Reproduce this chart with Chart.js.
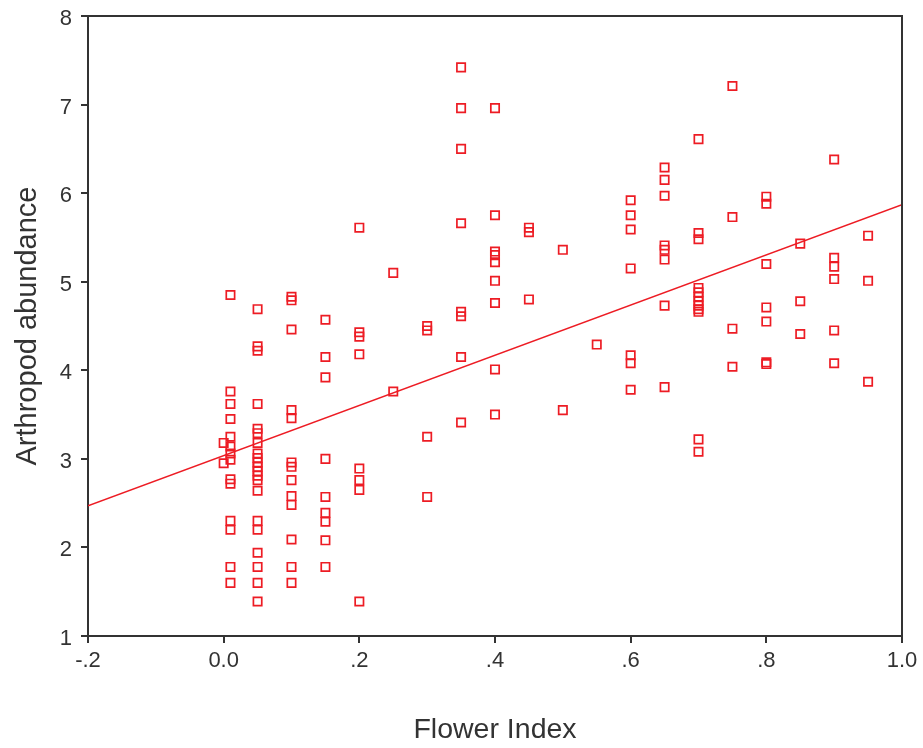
<!DOCTYPE html>
<html>
<head>
<meta charset="utf-8">
<script src="https://cdn.jsdelivr.net/npm/chart.js@4"></script>
<style>
    body { margin: 0; background: #ffffff; }
    #wrap { width: 923px; height: 748px; }
</style>
</head>
<body>
<div id="wrap"><canvas id="chart" width="923" height="748"></canvas></div>
<script>
// flower index groups and the arthropod abundance read for each group
const flowerIndex = [0.0, 0.01, 0.05, 0.1, 0.15, 0.2, 0.25, 0.3, 0.35, 0.4, 0.45, 0.5, 0.55, 0.6, 0.65, 0.7, 0.75, 0.8, 0.85, 0.9, 0.95];
const abundance = [
    [3.18, 2.95],
    [4.85, 3.76, 3.62, 3.45, 3.25, 3.14, 3.06, 2.99, 2.77, 2.72, 2.30, 2.20, 1.78, 1.60],
    [4.69, 4.27, 4.22, 3.62, 3.34, 3.29, 3.18, 3.06, 3.01, 2.96, 2.91, 2.86, 2.81, 2.76, 2.64, 2.30, 2.20, 1.94, 1.78, 1.60, 1.39],
    [4.83, 4.79, 4.46, 3.55, 3.46, 2.96, 2.91, 2.76, 2.58, 2.48, 2.09, 1.78, 1.60],
    [4.57, 4.15, 3.92, 3.00, 2.57, 2.39, 2.29, 2.08, 1.78],
    [5.61, 4.43, 4.38, 4.18, 2.89, 2.76, 2.65, 1.39],
    [5.10, 3.76],
    [4.50, 4.45, 3.25, 2.57],
    [7.42, 6.96, 6.50, 5.66, 4.66, 4.61, 4.15, 3.41],
    [6.96, 5.75, 5.34, 5.30, 5.22, 5.01, 4.76, 4.01, 3.50],
    [5.61, 5.56, 4.80],
    [5.36, 3.55],
    [4.29],
    [5.92, 5.75, 5.59, 5.15, 4.17, 4.08, 3.78],
    [6.29, 6.15, 5.97, 5.41, 5.36, 5.25, 4.73, 3.81],
    [6.61, 5.55, 5.48, 4.93, 4.88, 4.83, 4.78, 4.73, 4.69, 4.66, 3.22, 3.08],
    [7.21, 5.73, 4.47, 4.04],
    [5.96, 5.88, 5.20, 4.71, 4.55, 4.09, 4.07],
    [5.43, 4.78, 4.41],
    [6.38, 5.27, 5.17, 5.03, 4.45, 4.08],
    [5.52, 5.01, 3.87]
];

// fitted line, end points
const fitX = [-0.2, 1.0];
const fitY = [2.47, 5.87];

const xTickValues = [-0.2, 0, 0.2, 0.4, 0.6, 0.8, 1.0];
const xTickLabels = ['-.2', '0.0', '.2', '.4', '.6', '.8', '1.0'];

const red = '#ed1c24';
const axisColor = '#333333';
const fontFamily = "'Liberation Sans', Arial, sans-serif";

const points = [];
flowerIndex.forEach((fi, i) => {
    abundance[i].forEach(v => points.push({ x: fi, y: v }));
});
const fitLine = fitX.map((x, i) => ({ x: x, y: fitY[i] }));

// top and right sides of the box
const framePlugin = {
    id: 'frame',
    afterDraw: (chart) => {
        const { ctx, chartArea } = chart;
        ctx.save();
        ctx.beginPath();
        ctx.moveTo(chartArea.left, chartArea.top);
        ctx.lineTo(chartArea.right, chartArea.top);
        ctx.lineTo(chartArea.right, chartArea.bottom);
        ctx.lineWidth = 2;
        ctx.strokeStyle = axisColor;
        ctx.stroke();
        ctx.restore();
    }
};

new Chart(document.getElementById('chart'), {
    type: 'scatter',
    plugins: [framePlugin],
    data: {
        datasets: [{
            data: points,
            pointStyle: 'rect',
            pointRadius: 5.9,
            pointBorderWidth: 1.7,
            pointBorderColor: red,
            pointBackgroundColor: 'rgba(0,0,0,0)',
            showLine: false
        }, {
            type: 'line',
            data: fitLine,
            borderColor: red,
            borderWidth: 1.6,
            pointRadius: 0,
            fill: false,
            tension: 0
        }]
    },
    options: {
        responsive: false,
        animation: false,
        events: [],
        layout: {
            padding: { left: 0, top: 16, right: 21, bottom: 0 }
        },
        plugins: {
            legend: { display: false },
            tooltip: { enabled: false }
        },
        scales: {
            x: {
                type: 'linear',
                min: -0.2,
                max: 1.0,
                afterBuildTicks: (scale) => {
                    scale.ticks = xTickValues.map(v => ({ value: v }));
                },
                afterFit: (scale) => {
                    scale.height = 112;
                    scale.paddingLeft = 0;
                    scale.paddingRight = 0;
                },
                ticks: {
                    autoSkip: false,
                    maxRotation: 0,
                    padding: 5,
                    color: axisColor,
                    font: { family: fontFamily, size: 22 },
                    callback: (v, i) => xTickLabels[i]
                },
                grid: {
                    drawOnChartArea: false,
                    drawTicks: true,
                    tickLength: 7,
                    color: axisColor,
                    lineWidth: 2
                },
                border: { color: axisColor, width: 2 },
                title: {
                    display: true,
                    text: 'Flower Index',
                    color: axisColor,
                    font: { family: fontFamily, size: 28.5 },
                    padding: { top: 0, bottom: 1 }
                }
            },
            y: {
                min: 1,
                max: 8,
                afterFit: (scale) => {
                    scale.width = 88;
                    scale.paddingTop = 0;
                    scale.paddingBottom = 0;
                },
                ticks: {
                    stepSize: 1,
                    padding: 9,
                    labelOffset: 3,
                    color: axisColor,
                    font: { family: fontFamily, size: 22 }
                },
                grid: {
                    drawOnChartArea: false,
                    drawTicks: true,
                    tickLength: 7,
                    color: axisColor,
                    lineWidth: 2
                },
                border: { color: axisColor, width: 2 },
                title: {
                    display: true,
                    text: 'Arthropod abundance',
                    color: axisColor,
                    font: { family: fontFamily, size: 29 },
                    padding: { top: 11, bottom: 0 }
                }
            }
        }
    }
});
</script>
</body>
</html>
